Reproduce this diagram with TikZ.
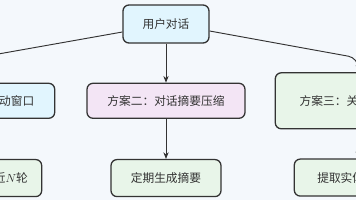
\documentclass[tikz,border=0pt]{standalone}
\usepackage{fontspec}
\setmainfont{Noto Sans CJK SC}
\usetikzlibrary{arrows.meta,positioning,calc}
\definecolor{canvasbg}{HTML}{F4F8FC}
\definecolor{userblue}{HTML}{E1F5FE}
\definecolor{summarypink}{HTML}{F3E5F5}
\definecolor{stepgreen}{HTML}{E8F5E9}
\definecolor{inkgray}{HTML}{333333}

\begin{document}
\begin{tikzpicture}[
  box/.style={draw=inkgray,line width=1.1pt,rounded corners=1.8mm,align=center,font=\fontsize{10}{12}\selectfont,text=inkgray,inner sep=3pt},
  flow/.style={-{Stealth[length=2mm,width=1.6mm]},line width=.8pt,draw=inkgray}
]
\path[use as bounding box,fill=canvasbg] (-49.8mm,7.2mm) rectangle (57mm,-52.8mm);
\clip (-49.8mm,7.2mm) rectangle (57mm,-52.8mm);
\node[box,fill=userblue,minimum width=25.8mm,minimum height=11.4mm] (user) at (0,0) {用户对话};
\node[box,fill=summarypink,minimum width=47.4mm,minimum height=10.5mm,below=11.7mm of user] (summary) {方案二：对话摘要压缩};
\node[box,fill=userblue,minimum width=47.4mm,minimum height=10.5mm,left=9.3mm of summary] (window) {方案一：固定滑动窗口};
\node[box,fill=stepgreen,minimum width=49.8mm,minimum height=16.8mm,right=8.7mm of summary] (entity) {方案三：关键信息提取};
\node[box,fill=stepgreen,minimum width=39.6mm,minimum height=11.1mm,below=12mm of window] (recent) {仅保留对话最近$N$轮};
\node[box,fill=stepgreen,minimum width=33mm,minimum height=11.1mm,below=12mm of summary] (periodic) {定期生成摘要};
\node[box,fill=stepgreen,minimum width=38.4mm,minimum height=11.1mm,below=8.7mm of entity] (extract) {提取实体与关系};
\coordinate (lbend) at ($(user.west -| window.north)+(0,-10.2mm)$);
\coordinate (rbend) at ($(user.east -| entity.north)+(0,-10.2mm)$);
\draw[flow,rounded corners=3mm] ([yshift=-2.4mm]user.west) -- (lbend) -- (window.north);
\draw[flow,rounded corners=3mm] ([yshift=-2.1mm]user.east) -- (rbend) -- (entity.north);
\draw[flow] (user)--(summary);
\draw[flow] (window)--(recent);
\draw[flow] (summary)--(periodic);
\draw[flow] (entity)--(extract);
\end{tikzpicture}
\end{document}
